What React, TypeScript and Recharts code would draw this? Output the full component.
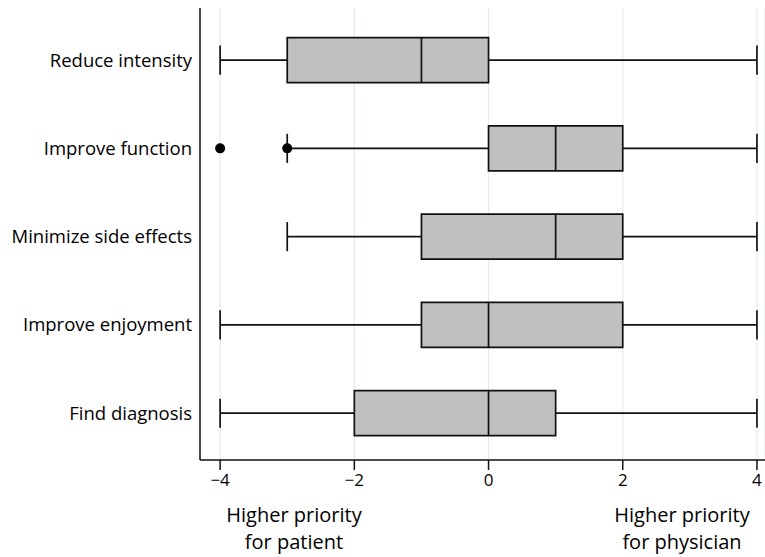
import {
  ComposedChart,
  XAxis,
  YAxis,
  CartesianGrid,
  ReferenceArea,
  ReferenceLine,
  Scatter,
} from "recharts";

// Box plot summary per item (priority difference, patient vs physician)
const categories = [
  "Reduce intensity",
  "Improve function",
  "Minimize side effects",
  "Improve enjoyment",
  "Find diagnosis",
];
const lowWhisker = [-4, -3, -3, -4, -4];
const q1 = [-3, 0, -1, -1, -2];
const median = [-1, 1, 1, 0, 0];
const q3 = [0, 2, 2, 2, 1];
const highWhisker = [4, 4, 4, 4, 4];
const outlierRows = [1, 1];
const outlierValues = [-4, -3];
const xTicks = [-4, -2, 0, 2, 4];

const rows = categories.map((_, i) => i);
const outliers = outlierRows.map((r, i) => ({ x: outlierValues[i], y: r }));

const BOX_HALF = 0.255;
const CAP_HALF = 0.165;
const INK = "#111";
const LW = 1.7;
const FONT = "'Open Sans', sans-serif";

const fmtMinus = (v: number) => String(v).replace("-", "\u2212");

export default function App() {
  return (
    <div style={{ position: "absolute", left: 0, top: 0, width: 765, height: 557, background: "#fff", fontFamily: FONT }}>
      <ComposedChart
        width={765}
        height={557}
        margin={{ top: 8, right: 0, bottom: 57, left: 0 }}
      >
        <CartesianGrid horizontal={false} stroke="#e4ebef" strokeWidth={1.2} />
        <XAxis
          type="number"
          dataKey="x"
          domain={[-4.3, 4.12]}
          ticks={xTicks}
          allowDataOverflow
          height={40}
          tickSize={10}
          tickMargin={4}
          tickFormatter={fmtMinus}
          tick={{ fill: "#000", fontSize: 17, fontFamily: FONT }}
          stroke={INK}
          strokeWidth={1.5}
        />
        <YAxis
          type="number"
          dataKey="y"
          domain={[-0.59, 4.53]}
          ticks={rows}
          reversed
          allowDataOverflow
          width={200}
          tickLine={false}
          tickFormatter={(i: number) => categories[i] ?? ""}
          tick={{ fill: "#000", fontSize: 18.5, fontFamily: FONT }}
          stroke={INK}
          strokeWidth={1.5}
        />
        {rows.map((r) => (
          <ReferenceLine
            key={`lw${r}`}
            segment={[{ x: lowWhisker[r], y: r }, { x: q1[r], y: r }]}
            stroke={INK}
            strokeWidth={LW}
          />
        ))}
        {rows.map((r) => (
          <ReferenceLine
            key={`hw${r}`}
            segment={[{ x: q3[r], y: r }, { x: highWhisker[r], y: r }]}
            stroke={INK}
            strokeWidth={LW}
          />
        ))}
        {rows.map((r) => (
          <ReferenceLine
            key={`lc${r}`}
            segment={[{ x: lowWhisker[r], y: r - CAP_HALF }, { x: lowWhisker[r], y: r + CAP_HALF }]}
            stroke={INK}
            strokeWidth={LW}
          />
        ))}
        {rows.map((r) => (
          <ReferenceLine
            key={`hc${r}`}
            segment={[{ x: highWhisker[r], y: r - CAP_HALF }, { x: highWhisker[r], y: r + CAP_HALF }]}
            stroke={INK}
            strokeWidth={LW}
          />
        ))}
        {rows.map((r) => (
          <ReferenceArea
            key={`box${r}`}
            x1={q1[r]}
            x2={q3[r]}
            y1={r - BOX_HALF}
            y2={r + BOX_HALF}
            fill="#c0c0c0"
            fillOpacity={1}
            stroke={INK}
            strokeWidth={LW}
          />
        ))}
        {rows.map((r) => (
          <ReferenceLine
            key={`med${r}`}
            segment={[{ x: median[r], y: r - BOX_HALF }, { x: median[r], y: r + BOX_HALF }]}
            stroke={INK}
            strokeWidth={LW}
          />
        ))}
        <Scatter
          data={outliers}
          isAnimationActive={false}
          shape={(p: any) => <circle cx={p.cx} cy={p.cy} r={5} fill="#000" />}
        />
      </ComposedChart>
      <div style={{ position: "absolute", left: 194, width: 200, top: 501, textAlign: "center", fontSize: 20, lineHeight: "27px", color: "#000" }}>
        Higher priority
        <br />
        for patient
      </div>
      <div style={{ position: "absolute", left: 582, width: 200, top: 501, textAlign: "center", fontSize: 20, lineHeight: "27px", color: "#000" }}>
        Higher priority
        <br />
        for physician
      </div>
    </div>
  );
}
